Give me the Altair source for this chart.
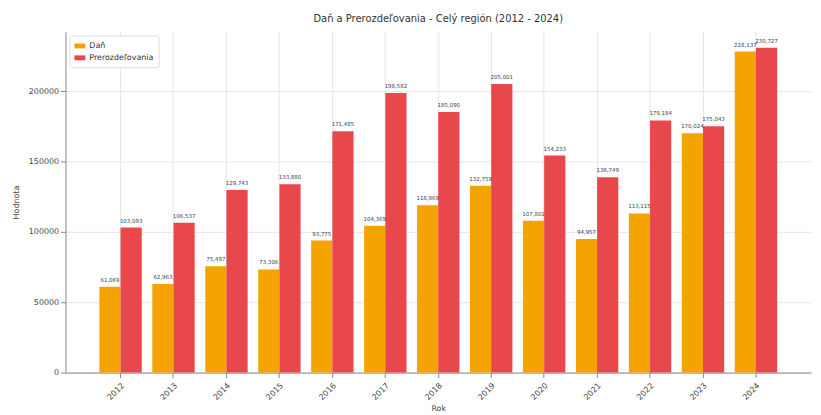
import altair as alt
import pandas as pd

years = ["2012", "2013", "2014", "2015", "2016", "2017", "2018", "2019", "2020", "2021", "2022", "2023", "2024"]
dan = [61069, 62963, 75497, 73306, 93775, 104369, 118969, 132759, 107801, 94957, 113115, 170024, 228137]
prer = [103093, 106537, 129743, 133880, 171485, 198582, 185090, 205001, 154233, 138749, 179184, 175043, 230727]
series = ["Daň", "Prerozdeľovania"]
colors = ["#F5A300", "#E8474B"]

rows = []
for i, y in enumerate(years):
    rows.append({"Rok": y, "Séria": series[0], "Hodnota": dan[i]})
    rows.append({"Rok": y, "Séria": series[1], "Hodnota": prer[i]})
df = pd.DataFrame(rows)

FONT = "DejaVu Sans"

x = alt.X("Rok:N", title="Rok", sort=years,
          scale=alt.Scale(paddingInner=0.2, paddingOuter=0.64),
          axis=alt.Axis(labelAngle=315, bandPosition=0.5, grid=True, gridColor="#e6e6e6",
                        domainColor="#888888", tickColor="#888888", labelFontSize=8,
                        titleFontSize=8, titleFontWeight="normal", labelColor="#444444",
                        titleColor="#444444", labelFont=FONT, titleFont=FONT, titlePadding=3,
                        labelPadding=4))
y = alt.Y("Hodnota:Q", title="Hodnota",
          scale=alt.Scale(domain=[0, 242300], nice=False),
          axis=alt.Axis(values=[0, 50000, 100000, 150000, 200000], format="d", grid=True,
                        gridColor="#e6e6e6", domainColor="#888888", tickColor="#888888",
                        labelFontSize=8, titleFontSize=8, titleFontWeight="normal",
                        labelColor="#444444", titleColor="#444444", labelFont=FONT,
                        titleFont=FONT, titlePadding=8))
xo = alt.XOffset("Séria:N", sort=series, scale=alt.Scale(paddingInner=0, paddingOuter=0))
color = alt.Color("Séria:N", sort=series, title=None,
                  scale=alt.Scale(domain=series, range=colors),
                  legend=alt.Legend(orient="top-left", fillColor="white", strokeColor="#dddddd",
                                    padding=5, offset=4, labelFontSize=8, labelFont=FONT,
                                    labelColor="#333333", symbolType="M-1,-0.45L1,-0.45L1,0.45L-1,0.45Z",
                                    symbolSize=120, symbolStrokeWidth=0, rowPadding=2,
                                    cornerRadius=2))

bars = alt.Chart(df).mark_bar().encode(x=x, xOffset=xo, y=y, color=color)
labels = alt.Chart(df).mark_text(dy=-4, fontSize=5.5, font=FONT, color="#334455", baseline="bottom").encode(
    x=x, xOffset=xo, y=y, text=alt.Text("Hodnota:Q", format=","))

chart = alt.layer(bars, labels).properties(
    width=752, height=344,
    title=alt.Title("Daň a Prerozdeľovania - Celý región (2012 - 2024)", fontSize=10,
                    font=FONT, fontWeight="normal", color="#333333", offset=8),
    autosize=alt.AutoSizeParams(type="none"),
    padding={"left": 58, "top": 22, "right": 2, "bottom": 40},
).configure_view(stroke=None)

chart.save("out.html", embed_options={"renderer": "svg", "actions": False})
